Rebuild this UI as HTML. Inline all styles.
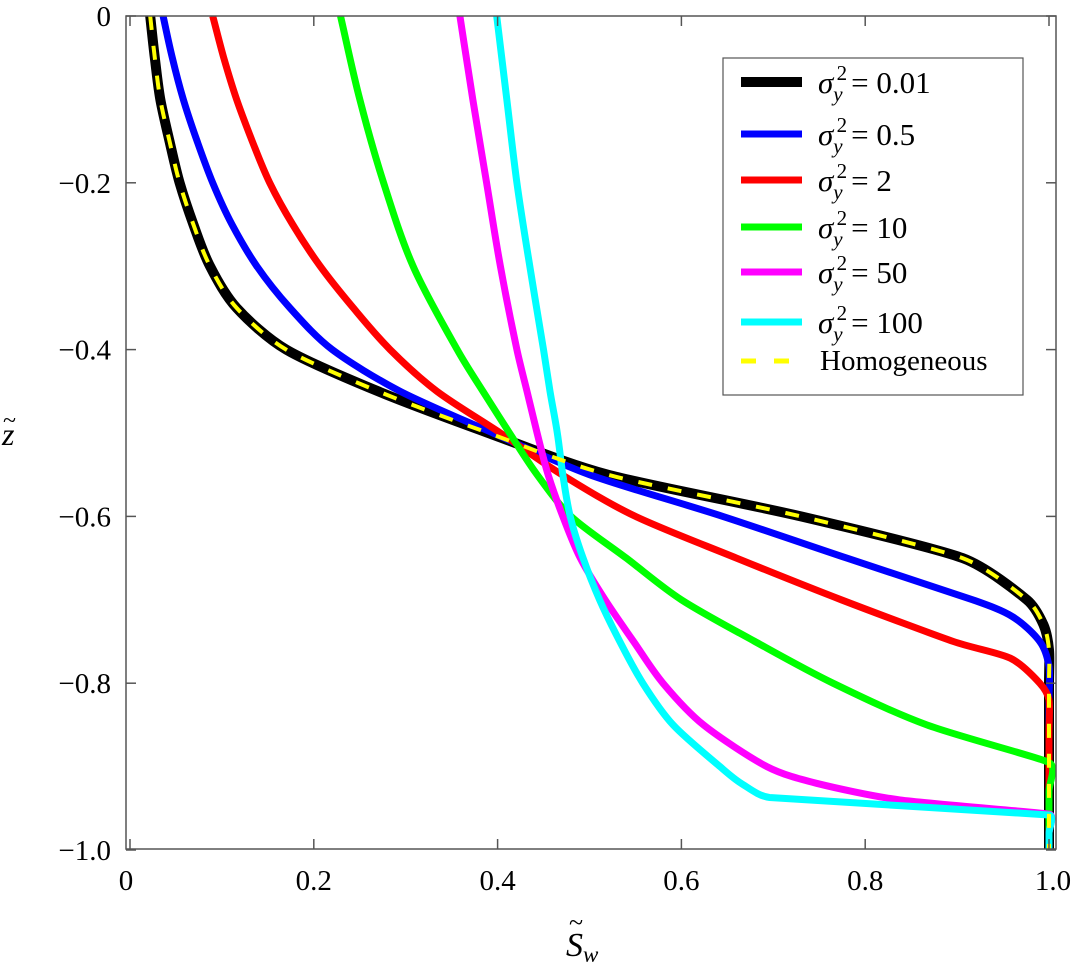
<!DOCTYPE html>
<html><head><meta charset="utf-8"><style>
body{margin:0;background:#fff}
svg{display:block}
text,tspan{font-family:"Liberation Serif","Times New Roman",serif}
</style></head><body>
<svg id="chart" width="1076" height="968" viewBox="0 0 1076 968" xmlns="http://www.w3.org/2000/svg" font-family="Liberation Serif, serif">
<g id="series"></g>
<rect x="126" y="16" width="930" height="833" fill="none" stroke="#555" stroke-width="1.5"/>
<g id="axes"></g>
<text x="566" y="956" font-size="34" font-style="italic" font-family="Liberation Serif, serif">S<tspan font-size="23" dy="6">w</tspan></text>
<text x="569" y="931" font-size="26" font-family="Liberation Serif, serif">~</text>
<text x="2" y="445" font-size="32" font-style="italic" font-family="Liberation Serif, serif">z</text>
<text x="3" y="428" font-size="24" font-family="Liberation Serif, serif">~</text>
<g>
<rect x="723" y="58" width="300" height="337" fill="#fff" stroke="#555" stroke-width="1.2"/>
<g id="legend-entries"></g>
</g>
</svg>
<script>
const xTicks=[0,0.2,0.4,0.6,0.8,1.0];
const xTickLabels=["0","0.2","0.4","0.6","0.8","1.0"];
const yTicks=[0,-0.2,-0.4,-0.6,-0.8,-1.0];
const yTickLabels=["0","\u22120.2","\u22120.4","\u22120.6","\u22120.8","\u22121.0"];
const s001Z=[0,-0.05,-0.1,-0.15,-0.2,-0.25,-0.3,-0.35,-0.4,-0.45,-0.5,-0.55,-0.6,-0.65,-0.7,-0.73,-0.76,-0.8,-1.0];
const s001=[0.022,0.027,0.033,0.043,0.054,0.069,0.087,0.116,0.17,0.27,0.39,0.52,0.73,0.906,0.976,0.994,1.0,1.0,1.0];
const s05Z=[0,-0.05,-0.1,-0.15,-0.2,-0.25,-0.3,-0.35,-0.4,-0.45,-0.5,-0.55,-0.6,-0.65,-0.7,-0.72,-0.75,-0.78,-0.82,-1.0];
const s05=[0.036,0.046,0.058,0.073,0.09,0.111,0.138,0.174,0.22,0.294,0.395,0.5,0.645,0.78,0.917,0.96,0.99,1.0,1.0,1.0];
const s2Z=[0,-0.05,-0.1,-0.15,-0.2,-0.25,-0.3,-0.35,-0.4,-0.45,-0.5,-0.55,-0.6,-0.65,-0.7,-0.75,-0.77,-0.8,-0.82,-0.86,-1.0];
const s2=[0.09,0.102,0.116,0.133,0.152,0.177,0.207,0.243,0.283,0.334,0.403,0.47,0.55,0.66,0.774,0.896,0.958,0.99,1.0,1.0,1.0];
const s10Z=[0,-0.1,-0.2,-0.3,-0.4,-0.45,-0.5,-0.55,-0.6,-0.65,-0.7,-0.75,-0.8,-0.85,-0.895,-0.93,-1.0];
const s10=[0.229,0.25,0.276,0.308,0.356,0.384,0.413,0.443,0.48,0.54,0.6,0.68,0.765,0.867,1.0,1.0,1.0];
const s50Z=[0,-0.1,-0.2,-0.3,-0.4,-0.45,-0.5,-0.55,-0.6,-0.65,-0.7,-0.75,-0.8,-0.85,-0.9,-0.92,-0.94,-0.957,-0.98,-1.0];
const s50=[0.359,0.373,0.388,0.403,0.421,0.432,0.443,0.455,0.471,0.49,0.517,0.548,0.58,0.624,0.693,0.747,0.838,1.0,1.0,1.0];
const s100Z=[0,-0.1,-0.2,-0.3,-0.4,-0.45,-0.5,-0.55,-0.6,-0.65,-0.7,-0.75,-0.8,-0.85,-0.9,-0.92,-0.937,-0.958,-0.98,-1.0];
const s100=[0.399,0.41,0.421,0.435,0.45,0.457,0.465,0.471,0.479,0.493,0.511,0.533,0.558,0.591,0.642,0.665,0.696,1.0,1.0,1.0];
const sHom=[0.022,0.027,0.033,0.043,0.054,0.069,0.087,0.116,0.17,0.27,0.39,0.52,0.73,0.906,0.976,0.994,1.0,1.0,1.0];
const legendLabels=["0.01","0.5","2","10","50","100"];

const NS="http://www.w3.org/2000/svg";
const FF="Liberation Serif, Times New Roman, serif";
function xs(v){return 130+v*919;}
function ys(z){return 16-z*834;}
const seriesG=document.getElementById('series');
const axesG=document.getElementById('axes');
function mk(tag,attrs,parent){const e=document.createElementNS(NS,tag);for(const k in attrs)e.setAttribute(k,attrs[k]);parent.appendChild(e);return e;}
function dist(a,b){return Math.hypot(a[0]-b[0],a[1]-b[1]);}
function smooth(S,Z){
 const P=S.map((s,i)=>[xs(s),ys(Z[i])]);
 const n=P.length;
 const T=P.map((p,i)=>{
  const a=P[Math.max(0,i-1)],b=P[Math.min(n-1,i+1)];
  const dx=b[0]-a[0],dy=b[1]-a[1],L=Math.hypot(dx,dy)||1;
  const m=Math.min(i>0?dist(P[i-1],p):1e9,i<n-1?dist(p,P[i+1]):1e9);
  return [dx/L*m/3,dy/L*m/3];
 });
 let d="M"+P[0][0].toFixed(1)+","+P[0][1].toFixed(1);
 for(let i=0;i<n-1;i++){
  const p1=P[i],p2=P[i+1];
  const c1=[p1[0]+T[i][0],p1[1]+T[i][1]];
  const c2=[p2[0]-T[i+1][0],p2[1]-T[i+1][1]];
  d+=" C"+c1[0].toFixed(1)+","+c1[1].toFixed(1)+" "+c2[0].toFixed(1)+","+c2[1].toFixed(1)+" "+p2[0].toFixed(1)+","+p2[1].toFixed(1);
 }
 return d;
}

const defs=[
 {name:'series-sigma-0.01',S:s001,Z:s001Z,c:'#000',w:10},
 {name:'series-sigma-0.5',S:s05,Z:s05Z,c:'#0000ff',w:7},
 {name:'series-sigma-2',S:s2,Z:s2Z,c:'#ff0000',w:7},
 {name:'series-sigma-10',S:s10,Z:s10Z,c:'#00ff00',w:7},
 {name:'series-sigma-50',S:s50,Z:s50Z,c:'#ff00ff',w:7},
 {name:'series-sigma-100',S:s100,Z:s100Z,c:'#00ffff',w:7}
];
const clip=mk('clipPath',{id:'pc'},seriesG);
mk('rect',{x:126,y:16,width:930,height:833},clip);
seriesG.setAttribute('clip-path','url(#pc)');
defs.forEach(d=>{
 const p=mk('path',{d:smooth(d.S,d.Z),fill:'none',stroke:d.c,'stroke-width':d.w,'stroke-linejoin':'round'},seriesG);
 
 
});
const hom=mk('path',{d:smooth(sHom,s001Z),fill:'none',stroke:'#ffff00','stroke-width':4,'stroke-dasharray':'14 16'},seriesG);



xTicks.forEach((v,i)=>{
 const x=xs(v);
 const t1=mk('line',{x1:x,y1:849,x2:x,y2:839,stroke:'#555','stroke-width':1.5},axesG);
 
 
 const t2=mk('line',{x1:x,y1:16,x2:x,y2:26,stroke:'#555','stroke-width':1.5},axesG);
 
 
 let lx=x; if(i===0)lx=126; if(i===xTicks.length-1)lx=1053;
 const t=mk('text',{x:lx,y:890,'font-size':29,'text-anchor':'middle','font-family':FF},axesG);
 t.textContent=xTickLabels[i];
 
 
});
yTicks.forEach((v,i)=>{
 const y=ys(v);
 const t1=mk('line',{x1:126,y1:y,x2:136,y2:y,stroke:'#555','stroke-width':1.5},axesG);
 
 
 const t2=mk('line',{x1:1056,y1:y,x2:1046,y2:y,stroke:'#555','stroke-width':1.5},axesG);
 
 
 const t=mk('text',{x:111,y:y+10,'font-size':29,'text-anchor':'end','font-family':FF},axesG);
 t.textContent=yTickLabels[i];
 
 
});

const leg=document.getElementById('legend-entries');
const legY=[82,134,180,227,272,322,361];
defs.forEach((d,i)=>{
 const y=legY[i];
 const l=mk('line',{x1:741,y1:y,x2:802,y2:y,stroke:d.c,'stroke-width':d.w},leg);
 
 
 const t=mk('text',{x:818,y:y+11,'font-size':31,'font-family':FF},leg);
 t.innerHTML='<tspan font-style="italic">σ</tspan><tspan font-style="italic" font-size="21" dy="8">y</tspan><tspan font-size="21" dx="-6" dy="-21">2</tspan><tspan dy="13" dx="4">= '+legendLabels[i]+'</tspan>';
 
 
});
const hl=mk('line',{x1:741,y1:361,x2:790,y2:361,stroke:'#ffff00','stroke-width':5,'stroke-dasharray':'15 18'},leg);


const ht=mk('text',{x:820,y:370,'font-size':29,'font-family':FF},leg);
ht.textContent='Homogeneous';


</script>
</body></html>
